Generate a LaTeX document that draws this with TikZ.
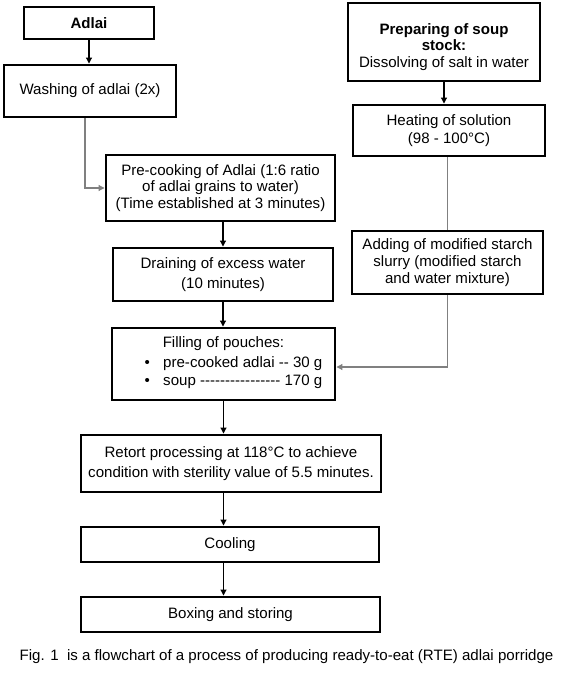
\documentclass[tikz,border=0pt]{standalone}
\usepackage{fontspec}
\setmainfont{Liberation Sans}
\usepackage{tikz}
\usetikzlibrary{arrows.meta, positioning}
\definecolor{flowgray}{HTML}{808080}

\begin{document}
\begin{tikzpicture}[
  x=0.75pt, y=-0.75pt,
  every node/.style={font=\fontsize{11.3}{13.5}\selectfont},
  stepbox/.style={draw=black, line width=2.2pt, fill=white, align=center,
                  inner sep=2pt},
  flow/.style={-{Triangle[length=4.5pt,width=4.5pt]}, line width=0.8pt, color=black},
  side/.style={-{Triangle[length=4.5pt,width=4.5pt]}, line width=0.8pt, color=flowgray},
]
\useasboundingbox (0,0) rectangle (561,675);

\node[stepbox, minimum width=97.5pt, minimum height=24pt]
     (adlai)   at (89,23)     {\textbf{Adlai}};
\node[stepbox, minimum width=129pt, minimum height=39pt]
     (wash)    at (90,91)     {Washing of adlai (2x)};
\node[stepbox, minimum width=171.75pt, minimum height=49.5pt,
      font=\fontsize{11.3}{12.6}\selectfont]
     (precook) at (220.5,188) {Pre-cooking of Adlai (1:6 ratio\\of adlai grains to water)\\(Time established at 3 minutes)};
\node[stepbox, minimum width=165pt, minimum height=39.75pt,
      font=\fontsize{11.3}{15}\selectfont]
     (drain)   at (223,274.5) {Draining of excess water\\(10 minutes)};
\node[stepbox, minimum width=167.25pt, minimum height=54pt]
     (fill)    at (223.5,364) {Filling of pouches:\\[2pt]
       \hspace{15pt}\begin{tabular}{@{}l@{}}
       \textbullet\hspace{10pt}pre-cooked adlai -{}- 30 g\\[0pt]
       \textbullet\hspace{10pt}soup -{}-{}-{}-{}-{}-{}-{}-{}-{}-{}-{}-{}-{}-{}-{}- 170 g
       \end{tabular}};
\node[stepbox, minimum width=225pt, minimum height=42.75pt,
      font=\fontsize{11.3}{15}\selectfont]
     (retort)  at (231,463.5) {Retort processing at 118°C to achieve\\condition with sterility value of 5.5 minutes.};
\node[stepbox, minimum width=223.5pt, minimum height=26.25pt]
     (cool)    at (230,544.5) {Cooling};
\node[stepbox, minimum width=224.25pt, minimum height=26.25pt]
     (box)     at (230.5,614.5) {Boxing and storing};

\node[stepbox, minimum width=144pt, minimum height=58.5pt,
      font=\fontsize{11.3}{12.3}\selectfont]
     (soup)    at (444,42)    {\rule{0pt}{15.5pt}\textbf{Preparing of soup}\\\textbf{stock:}\\Dissolving of salt in water};
\node[stepbox, minimum width=144pt, minimum height=38.25pt]
     (heat)    at (449,130.5) {Heating of solution\\(98 - 100°C)};
\node[stepbox, minimum width=143.25pt, minimum height=47.25pt,
      font=\fontsize{11.3}{12.6}\selectfont]
     (starch)  at (447.5,262.5) {Adding of modified starch\\slurry (modified starch\\and water mixture)};

\node (caption) at (286.5,657) {Fig. 1\ \ is a flowchart of a process of producing ready-to-eat (RTE) adlai porridge};

\draw[flow] (adlai.south) -- (adlai.south |- wash.north);
\draw[side] ([xshift=-3.75pt]wash.south) |- (precook.west);
\draw[flow] (drain.north |- precook.south) -- (drain.north);
\draw[flow] (drain.south) -- (drain.south |- fill.north);
\draw[flow] (fill.south) -- (fill.south |- retort.north);
\draw[flow] (fill.south |- retort.south) -- (fill.south |- cool.north);
\draw[flow] (fill.south |- cool.south) -- (fill.south |- box.north);
\draw[flow] (soup.south) -- (soup.south |- heat.north);
\draw[side, -] (starch.north |- heat.south) -- (starch.north);
\draw[side] (starch.south) |- ([yshift=-2.25pt]fill.east);

\end{tikzpicture}
\end{document}
